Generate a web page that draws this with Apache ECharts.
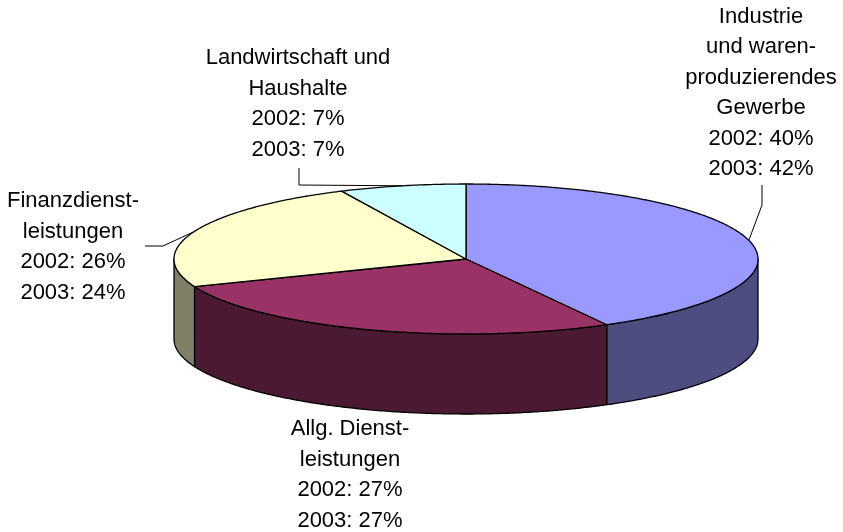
<!DOCTYPE html>
<html>
<head>
<meta charset="utf-8">
<title>Anteile nach Branchen</title>
<script src="https://cdn.jsdelivr.net/npm/echarts@6/dist/echarts.min.js"></script>
<style>
  html, body { margin: 0; padding: 0; background: #fff; }
  #chart { width: 843px; height: 532px; }
</style>
</head>
<body>
<div id="chart"></div>
<script>
// Branchen, im Uhrzeigersinn ab 12 Uhr
const categories = [
    'Industrie\nund waren-\nproduzierendes\nGewerbe',
    'Allg. Dienst-\nleistungen',
    'Finanzdienst-\nleistungen',
    'Landwirtschaft und\nHaushalte'
];
const share2002 = [40, 27, 26, 7];
const share2003 = [42, 27, 24, 7];

const topColors = ['#9999FF', '#993366', '#FFFFCC', '#CCFFFF'];
const sideColors = ['#4D4D80', '#4C1933', '#808066', '#668080'];

// Geometrie des 3D-Kuchens (Pixel)
const CX = 466, CY = 259, RX = 292, RY = 75, DEPTH = 80;

// Beschriftungen: Textmitte + Knick der Führungslinie
const labelLayout = [
    { x: 761, y: 93, leader: [[762, 185], [762, 205]] },
    { x: 350, y: 475, leader: null },
    { x: 73, y: 247, leader: [[145, 246], [163, 246]] },
    { x: 298, y: 104, leader: [[299, 168], [299, 185]] }
];

const total = share2003.reduce((a, b) => a + b, 0);
const startAngles = [];
let acc = 0;
share2003.forEach(v => {
    startAngles.push(acc / total * Math.PI * 2);
    acc += v;
});

function pt(t, dy) {
    return [CX + RX * Math.sin(t), CY - RY * Math.cos(t) + (dy || 0)];
}

function arc(t1, t2, dy) {
    const n = Math.max(2, Math.ceil((t2 - t1) / 0.01));
    const pts = [];
    for (let i = 0; i <= n; i++) {
        pts.push(pt(t1 + (t2 - t1) * i / n, dy));
    }
    return pts;
}

function sliceRange(i) {
    const t1 = startAngles[i];
    const t2 = t1 + share2003[i] / total * Math.PI * 2;
    return [t1, t2];
}

const lineStyle = { stroke: '#000', lineWidth: 1.3, lineJoin: 'round' };

function renderSide(params) {
    const i = params.dataIndex;
    const [t1, t2] = sliceRange(i);
    const a = Math.max(t1, Math.PI / 2);
    const b = Math.min(t2, Math.PI * 1.5);
    if (a >= b) return { type: 'group', children: [] };
    const pts = arc(a, b, 0).concat(arc(a, b, DEPTH).reverse());
    return {
        type: 'polygon',
        shape: { points: pts },
        style: Object.assign({ fill: sideColors[i] }, lineStyle)
    };
}

function renderTop(params) {
    const i = params.dataIndex;
    const [t1, t2] = sliceRange(i);
    const pts = [[CX, CY]].concat(arc(t1, t2, 0));
    return {
        type: 'polygon',
        shape: { points: pts },
        style: Object.assign({ fill: topColors[i] }, lineStyle)
    };
}

function renderLabel(params) {
    const i = params.dataIndex;
    const [t1, t2] = sliceRange(i);
    const lay = labelLayout[i];
    const children = [];
    if (lay.leader) {
        const end = pt((t1 + t2) / 2, 0);
        children.push({
            type: 'polyline',
            shape: { points: lay.leader.concat([end]) },
            style: { stroke: '#000', lineWidth: 1, fill: null }
        });
    }
    children.push({
        type: 'text',
        style: {
            text: categories[i] + '\n2002: ' + share2002[i] + '%\n2003: ' + share2003[i] + '%',
            x: lay.x,
            y: lay.y,
            fill: '#000',
            font: '22px "Liberation Sans", Arial, sans-serif',
            lineHeight: 30.5,
            textAlign: 'center',
            textVerticalAlign: 'middle'
        }
    });
    return { type: 'group', children: children };
}

const chart = echarts.init(document.getElementById('chart'), null, { renderer: 'canvas' });
chart.setOption({
    animation: false,
    backgroundColor: '#fff',
    series: [
        { type: 'custom', coordinateSystem: 'none', z: 1, renderItem: renderSide, data: share2003 },
        { type: 'custom', coordinateSystem: 'none', z: 2, renderItem: renderTop, data: share2003 },
        { type: 'custom', coordinateSystem: 'none', z: 3, renderItem: renderLabel, data: share2003, silent: true }
    ]
});
</script>
</body>
</html>
